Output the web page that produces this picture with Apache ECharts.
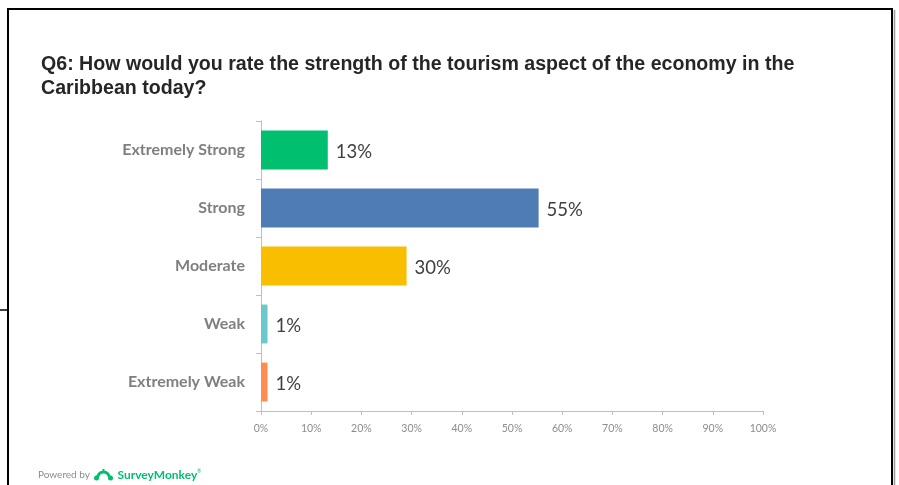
<!DOCTYPE html>
<html>
<head>
<meta charset="utf-8">
<script src="https://cdn.jsdelivr.net/npm/echarts@6/dist/echarts.min.js"></script>
<style>
html,body{margin:0;padding:0;background:#fff;}
#c{width:899px;height:485px;}
</style>
</head>
<body>
<div id="c"></div>
<script>
const titleText = 'Q6: How would you rate the strength of the tourism aspect of the economy in the\nCaribbean today?';
const categories = ['Extremely Strong', 'Strong', 'Moderate', 'Weak', 'Extremely Weak'];
const values = [13.3, 55.3, 29.0, 1.3, 1.3];
const valueLabels = ['13%', '55%', '30%', '1%', '1%'];
const barColors = ['#00bf6f', '#507cb6', '#f9be00', '#6bc8cd', '#ff8b4f'];
const tickValues = [0, 10, 20, 30, 40, 50, 60, 70, 80, 90, 100];

const chart = echarts.init(document.getElementById('c'), null, {renderer: 'canvas'});
chart.setOption({
  animation: false,
  backgroundColor: '#ffffff',
  title: {
    text: titleText,
    left: 36,
    top: 48,
    textStyle: {
      fontFamily: 'Liberation Sans, Arial, sans-serif',
      fontWeight: 'bold',
      fontSize: 19.6,
      lineHeight: 24,
      color: '#262626'
    }
  },
  grid: {left: 261, right: 136, top: 121, bottom: 74, containLabel: false},
  xAxis: {
    type: 'value',
    min: tickValues[0],
    max: tickValues[tickValues.length - 1],
    interval: 10,
    axisLine: {show: true, lineStyle: {color: '#bfbfbf', width: 1}},
    axisTick: {show: true, length: 4, lineStyle: {color: '#bfbfbf'}},
    splitLine: {show: false},
    axisLabel: {
      formatter: v => v + '%',
      color: '#8c8c8c',
      fontFamily: 'Lato, sans-serif',
      fontSize: 10.5,
      margin: 12
    }
  },
  yAxis: {
    type: 'category',
    data: categories,
    inverse: true,
    axisLine: {show: true, lineStyle: {color: '#bfbfbf', width: 1}},
    axisTick: {show: true, length: 5, lineStyle: {color: '#bfbfbf'}},
    axisLabel: {
      color: '#7f7f7f',
      fontFamily: 'Lato, sans-serif',
      fontWeight: 'bold',
      fontSize: 16,
      margin: 16
    }
  },
  series: [{
    type: 'bar',
    data: values.map((v, i) => ({value: v, itemStyle: {color: barColors[i]}})),
    barCategoryGap: '33%',
    label: {
      show: true,
      position: 'right',
      distance: 8,
      offset: [0, 2],
      formatter: p => valueLabels[p.dataIndex],
      color: '#404040',
      fontFamily: 'Lato, sans-serif',
      fontSize: 18.5
    }
  }],
  graphic: [
    {type: 'line', shape: {x1: 7, y1: 9, x2: 893, y2: 9}, style: {stroke: '#000', lineWidth: 2}},
    {type: 'line', shape: {x1: 8, y1: 8, x2: 8, y2: 485}, style: {stroke: '#000', lineWidth: 2}},
    {type: 'line', shape: {x1: 0, y1: 310, x2: 8, y2: 310}, style: {stroke: '#000', lineWidth: 1.5}},
    {type: 'line', shape: {x1: 892, y1: 8, x2: 892, y2: 485}, style: {stroke: '#000', lineWidth: 2}},
    {type: 'line', shape: {x1: 894.5, y1: 10, x2: 894.5, y2: 485}, style: {stroke: '#9a9a9a', lineWidth: 1.5}},
    {
      type: 'text', left: 38, top: 469,
      style: {
        text: '{a|Powered by }{b|SurveyMonkey}{c|®}',
        rich: {
          a: {fill: '#8c8c8c', fontFamily: 'Lato, sans-serif', fontSize: 10, padding: [0, 25, 0, 0]},
          b: {fill: '#00bf6f', fontFamily: 'Lato, sans-serif', fontSize: 12, fontWeight: 'bold'},
          c: {fill: '#00bf6f', fontFamily: 'Lato, sans-serif', fontSize: 5, verticalAlign: 'top'}
        }
      }
    },
    {
      type: 'group', left: 94, top: 469,
      children: [
        {type: 'arc', shape: {cx: 10, cy: 10, r: 6, startAngle: Math.PI, endAngle: 2 * Math.PI}, style: {stroke: '#00bf6f', fill: null, lineWidth: 3}},
        {type: 'circle', shape: {cx: 3, cy: 10, r: 2.5}, style: {fill: '#00bf6f'}},
        {type: 'circle', shape: {cx: 17, cy: 10, r: 2.5}, style: {fill: '#00bf6f'}},
        {type: 'rect', shape: {x: 9, y: 1, width: 2, height: 4}, style: {fill: '#00bf6f'}}
      ]
    }
  ]
});
</script>
</body>
</html>
